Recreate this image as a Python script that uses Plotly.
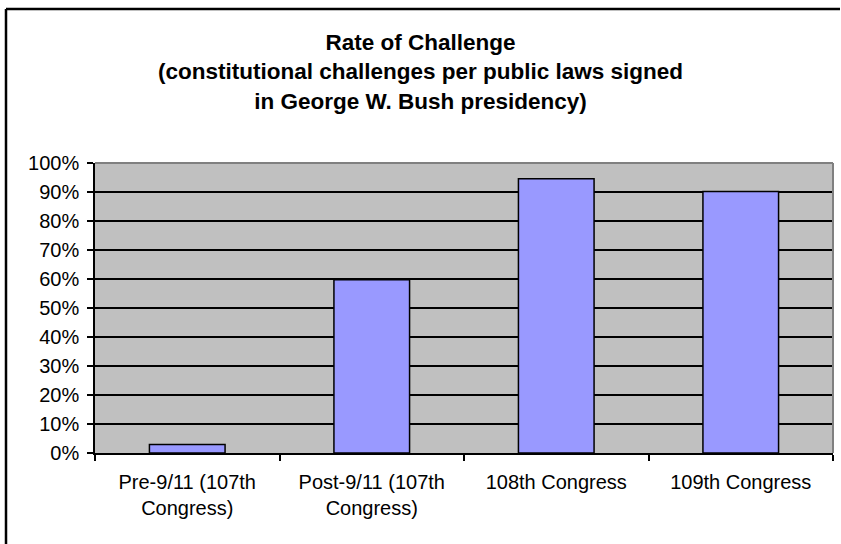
import plotly.graph_objects as go

# Congress periods and the share of signed public laws that drew constitutional challenges
periods = [
    "Pre-9/11 (107th<br>Congress)",
    "Post-9/11 (107th<br>Congress)",
    "108th Congress",
    "109th Congress",
]
challenge_rate = [0.029, 0.597, 0.946, 0.902]

y_ticks = [0.0, 0.1, 0.2, 0.3, 0.4, 0.5, 0.6, 0.7, 0.8, 0.9, 1.0]

W, H = 841, 544
M_L, M_R, M_T, M_B = 95, 8, 163, 91
plot_w = W - M_L - M_R
plot_h = H - M_T - M_B

def px_to_paper_x(px):
    return (px - M_L) / plot_w

def px_to_paper_y(py):
    return (H - M_B - py) / plot_h

font_family = "Liberation Sans, Arial, sans-serif"

fig = go.Figure(
    go.Bar(
        x=periods,
        y=challenge_rate,
        marker=dict(color="#9999FF", line=dict(color="#000000", width=1.5)),
        width=0.41,
        hoverinfo="x+y",
    )
)

fig.update_layout(
    width=W,
    height=H,
    margin=dict(l=M_L, r=M_R, t=M_T, b=M_B),
    paper_bgcolor="#FFFFFF",
    plot_bgcolor="#C0C0C0",
    showlegend=False,
    font=dict(family=font_family, size=20, color="#000000"),
    title=dict(
        text="<b>Rate of Challenge<br>(constitutional challenges per public laws signed<br>in George W. Bush presidency)</b>",
        x=0.5,
        xref="container",
        xanchor="center",
        y=1 - 50 / H,
        yref="container",
        yanchor="top",
        font=dict(family=font_family, size=22.5, color="#000000"),
    ),
)

fig.update_xaxes(
    showline=True,
    linecolor="#000000",
    linewidth=1.5,
    ticks="outside",
    tickson="boundaries",
    ticklen=6,
    tickwidth=1.5,
    tickcolor="#000000",
    showgrid=False,
    tickfont=dict(size=20),
    ticklabelstandoff=10,
)

fig.update_yaxes(
    range=[0, 1],
    tickvals=y_ticks,
    tickformat=".0%",
    showline=True,
    linecolor="#000000",
    linewidth=1.5,
    ticks="outside",
    ticklen=6,
    tickwidth=1.5,
    tickcolor="#000000",
    showgrid=True,
    gridcolor="#000000",
    gridwidth=1.5,
    zeroline=False,
    tickfont=dict(size=20),
    ticklabelstandoff=4,
)

# Grey edges on the top and right of the plotting area
fig.add_shape(type="line", xref="paper", yref="paper", x0=0, x1=1, y0=1, y1=1,
              line=dict(color="#808080", width=2))
fig.add_shape(type="line", xref="paper", yref="paper", x0=1, x1=1, y0=0, y1=1,
              line=dict(color="#808080", width=2))

# Chart frame: left and top edges, running off the page
frame_left = px_to_paper_x(6)
frame_top = px_to_paper_y(9)
fig.add_shape(type="line", xref="paper", yref="paper",
              x0=frame_left, x1=frame_left, y0=frame_top, y1=px_to_paper_y(H + 40),
              line=dict(color="#000000", width=2.5))
fig.add_shape(type="line", xref="paper", yref="paper",
              x0=frame_left, x1=px_to_paper_x(W - 1), y0=frame_top, y1=frame_top,
              line=dict(color="#000000", width=2.5))

fig.write_html("out.html")
